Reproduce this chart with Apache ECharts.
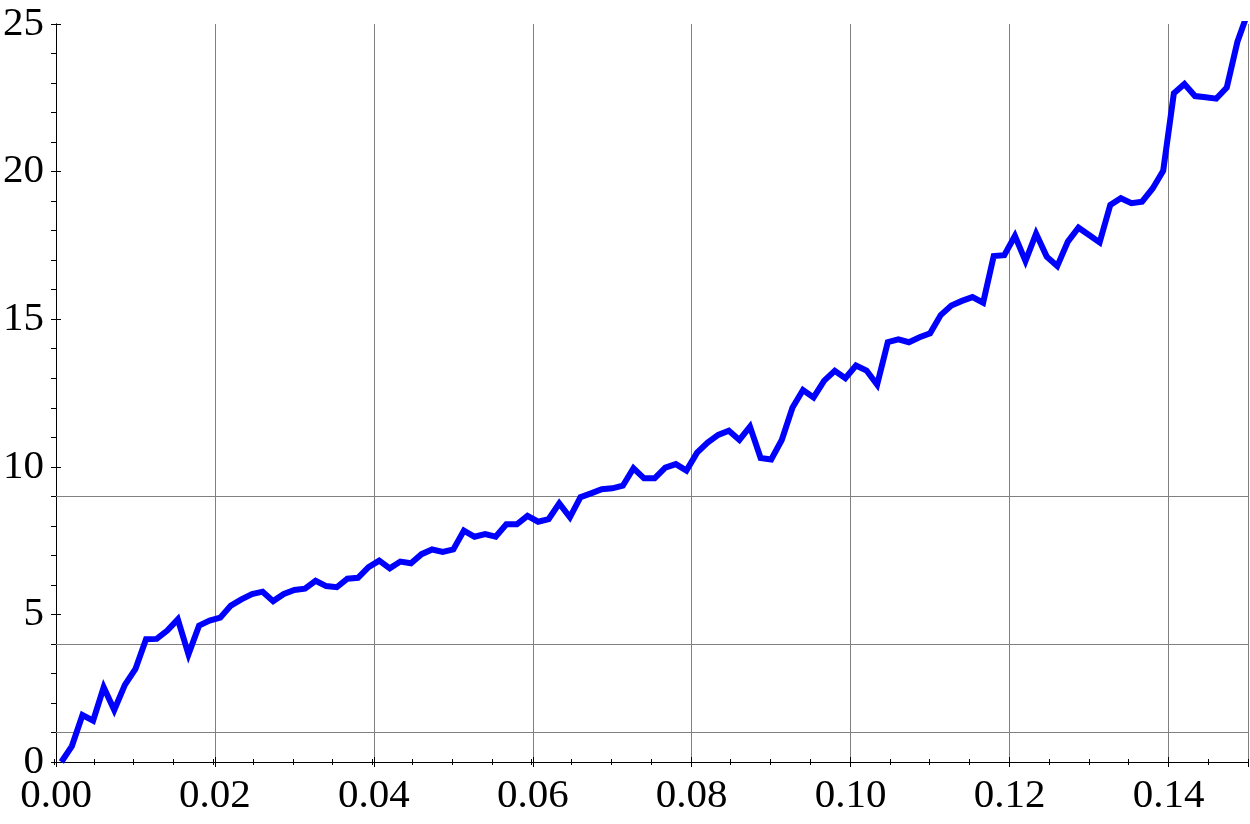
<!DOCTYPE html>
<html>
<head>
<meta charset="utf-8">
<script src="https://cdn.jsdelivr.net/npm/echarts@6/dist/echarts.min.js"></script>
<style>
html,body{margin:0;padding:0;background:#fff;}
#chart{width:1250px;height:824px;}
</style>
</head>
<body>
<div id="chart"></div>
<script>
var xValues = [
0.00067,0.00200,0.00333,0.00467,0.00600,0.00733,0.00867,0.01000,0.01133,0.01267,
0.01400,0.01533,0.01667,0.01800,0.01933,0.02067,0.02200,0.02333,0.02467,0.02600,
0.02733,0.02867,0.03000,0.03133,0.03267,0.03400,0.03533,0.03667,0.03800,0.03933,
0.04067,0.04200,0.04333,0.04467,0.04600,0.04733,0.04867,0.05000,0.05133,0.05267,
0.05400,0.05533,0.05667,0.05800,0.05933,0.06067,0.06200,0.06333,0.06467,0.06600,
0.06733,0.06867,0.07000,0.07133,0.07267,0.07400,0.07533,0.07667,0.07800,0.07933,
0.08067,0.08200,0.08333,0.08467,0.08600,0.08733,0.08867,0.09000,0.09133,0.09267,
0.09400,0.09533,0.09667,0.09800,0.09933,0.10067,0.10200,0.10333,0.10467,0.10600,
0.10733,0.10867,0.11000,0.11133,0.11267,0.11400,0.11533,0.11667,0.11800,0.11933,
0.12067,0.12200,0.12333,0.12467,0.12600,0.12733,0.12867,0.13000,0.13133,0.13267,
0.13400,0.13533,0.13667,0.13800,0.13933,0.14067,0.14200,0.14333,0.14467,0.14600,
0.14733,0.14867,0.15000
];
var yValues = [
0.00,0.54,1.59,1.40,2.53,1.76,2.61,3.15,4.16,4.17,
4.45,4.83,3.65,4.62,4.79,4.89,5.30,5.51,5.69,5.77,
5.45,5.69,5.83,5.87,6.14,5.96,5.92,6.21,6.24,6.60,
6.82,6.56,6.79,6.73,7.04,7.20,7.12,7.20,7.84,7.63,
7.72,7.63,8.05,8.05,8.34,8.14,8.23,8.76,8.29,8.97,
9.10,9.24,9.27,9.36,9.95,9.61,9.61,9.97,10.09,9.87,
10.48,10.82,11.08,11.22,10.91,11.36,10.30,10.25,10.91,12.00,
12.60,12.35,12.92,13.25,13.00,13.43,13.26,12.78,14.22,14.32,
14.22,14.39,14.52,15.14,15.46,15.62,15.75,15.56,17.14,17.17,
17.82,16.97,17.90,17.12,16.80,17.63,18.10,17.85,17.60,18.87,
19.10,18.93,18.98,19.43,20.03,22.65,22.97,22.56,22.52,22.47,
22.85,24.40,25.40
];
var xTickLabels = ['0.00','0.02','0.04','0.06','0.08','0.10','0.12','0.14'];
var yTickLabels = ['0','5','10','15','20','25'];
var gridY = [1, 4, 9];

var points = xValues.map(function (x, i) { return [x, yValues[i]]; });

var FONT = '"Liberation Serif", "Times New Roman", serif';
var FSIZE = 41;
var rect = { left: 54, right: 2, top: 24, bottom: 62 };
function grid() { return { left: rect.left, right: rect.right, top: rect.top, bottom: rect.bottom, containLabel: false }; }

var black = { color: '#000', width: 1 };

var chart = echarts.init(document.getElementById('chart'), null, { renderer: 'canvas' });
chart.setOption({
  animation: false,
  backgroundColor: '#fff',
  grid: [grid(), grid()],
  xAxis: [
    { type: 'value', gridIndex: 0, position: 'bottom', min: 0, max: 0.15, interval: 0.02,
      axisLine: { show: true, lineStyle: black },
      axisTick: { show: true, inside: true, length: 5, lineStyle: black },
      axisLabel: { show: true, margin: 14, color: '#000', fontFamily: FONT, fontSize: FSIZE,
        showMaxLabel: false,
        formatter: function (v) { var i = Math.round(v / 0.02); return xTickLabels[i] !== undefined && Math.abs(v - i * 0.02) < 1e-9 ? xTickLabels[i] : ''; } },
      splitLine: { show: true, lineStyle: { color: '#808080', width: 1 } } },
    { type: 'value', gridIndex: 0, position: 'top', min: 0, max: 0.15, interval: 0.02,
      axisLine: { show: true, lineStyle: black },
      axisTick: { show: true, inside: true, length: 5, lineStyle: black },
      axisLabel: { show: false }, splitLine: { show: false } },
    { type: 'value', gridIndex: 1, position: 'bottom', min: 0, max: 0.15, interval: 0.005,
      axisLine: { show: false },
      axisTick: { show: true, inside: true, length: 3, lineStyle: black },
      axisLabel: { show: false }, splitLine: { show: false } },
    { type: 'value', gridIndex: 1, position: 'top', min: 0, max: 0.15, interval: 0.005,
      axisLine: { show: false },
      axisTick: { show: true, inside: true, length: 3, lineStyle: black },
      axisLabel: { show: false }, splitLine: { show: false } }
  ],
  yAxis: [
    { type: 'value', gridIndex: 0, position: 'left', min: 0, max: 25, interval: 5,
      axisLine: { show: true, lineStyle: black },
      axisTick: { show: true, inside: true, length: 5, lineStyle: black },
      axisLabel: { show: true, margin: 12, color: '#000', fontFamily: FONT, fontSize: FSIZE,
        formatter: function (v) { var i = Math.round(v / 5); return yTickLabels[i] || ''; } },
      splitLine: { show: false } },
    { type: 'value', gridIndex: 0, position: 'right', min: 0, max: 25, interval: 5,
      axisLine: { show: true, lineStyle: black },
      axisTick: { show: true, inside: true, length: 5, lineStyle: black },
      axisLabel: { show: false }, splitLine: { show: false } },
    { type: 'value', gridIndex: 1, position: 'left', min: 0, max: 25, interval: 1,
      axisLine: { show: false },
      axisTick: { show: true, inside: true, length: 3, lineStyle: black },
      axisLabel: { show: false }, splitLine: { show: false } },
    { type: 'value', gridIndex: 1, position: 'right', min: 0, max: 25, interval: 1,
      axisLine: { show: false },
      axisTick: { show: true, inside: true, length: 3, lineStyle: black },
      axisLabel: { show: false }, splitLine: { show: false } }
  ],
  series: [
    { type: 'line', xAxisIndex: 0, yAxisIndex: 0, data: points, z: 3,
      showSymbol: false, symbol: 'none', smooth: false, clip: true,
      lineStyle: { color: '#0000ff', width: 6, join: 'miter' },
      markLine: { silent: true, z: 1, symbol: ['none', 'none'], animation: false,
        label: { show: false },
        lineStyle: { color: '#808080', width: 1, type: 'solid' },
        emphasis: { disabled: true },
        data: gridY.map(function (v) { return { yAxis: v }; }) } }
  ]
});
</script>
</body>
</html>
